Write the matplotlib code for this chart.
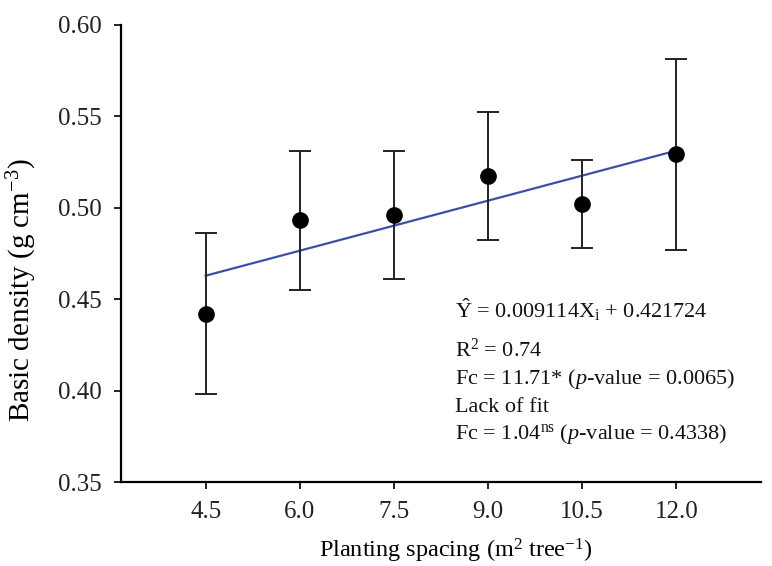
import numpy as np
import matplotlib.pyplot as plt

## Data
spacing = [4.5, 6.0, 7.5, 9.0, 10.5, 12.0]
density = [0.442, 0.493, 0.496, 0.517, 0.502, 0.529]
err_low = [0.398, 0.455, 0.461, 0.482, 0.478, 0.477]
err_high = [0.486, 0.531, 0.531, 0.552, 0.526, 0.581]
slope, intercept = 0.009114, 0.421724
stats_lines = [r'$\hat{\mathrm{Y}}$ = 0.009114X$_{\mathrm{i}}$ + 0.421724',
               r'R$^2$ = 0.74',
               r'Fc = 11.71* ($p$-value = 0.0065)',
               'Lack of fit',
               r'Fc = 1.04$^{\mathrm{ns}}$ ($p$-value = 0.4338)']
stats_baselines = [0.4397, 0.4184, 0.4036, 0.3883, 0.3735]

plt.rcParams['font.family'] = ['Liberation Serif', 'DejaVu Serif']
plt.rcParams['mathtext.fontset'] = 'custom'
plt.rcParams['mathtext.rm'] = 'Liberation Serif'
plt.rcParams['mathtext.it'] = 'Liberation Serif:italic'

fig = plt.figure(figsize=(7.72, 5.66), dpi=100)
ax = fig.add_axes([0.1567, 0.1484, 0.8291, 0.8083])

x = np.array(spacing)
y = np.array(density)
yerr = [y - np.array(err_low), np.array(err_high) - y]

# regression line
xl = np.array([spacing[0], spacing[-1]])
ax.plot(xl, slope * xl + intercept, color='#3b4fa8', lw=1.6, zorder=2)

ax.errorbar(x, y, yerr=yerr, fmt='o', color='black', ms=11,
            ecolor='#222222', elinewidth=1.4, capsize=8, capthick=1.4, zorder=3)

ax.set_xlim(3.15, 13.35)
ax.set_ylim(0.35, 0.60)
ax.set_xticks(spacing)
ax.set_xticklabels(['%.1f' % v for v in spacing])
ax.set_yticks([0.35, 0.40, 0.45, 0.50, 0.55, 0.60])
ax.set_yticklabels(['%.2f' % v for v in ax.get_yticks()])
ax.spines['top'].set_visible(False)
ax.spines['right'].set_visible(False)
ax.spines['left'].set_linewidth(1.6)
ax.spines['bottom'].set_linewidth(1.6)
ax.tick_params(labelsize=18, width=1.4, length=5, colors='#222222')
ax.tick_params(axis='x', pad=9)
ax.tick_params(axis='y', pad=9)

ax.set_xlabel(r'Planting spacing (m$^{2}$ tree$^{\mathregular{-1}}$)', fontsize=17.5)
ax.set_ylabel(r'Basic density (g cm$^{\mathregular{-3}}$)', fontsize=21)
ax.xaxis.set_label_coords(0.523, -0.12)
ax.yaxis.set_label_coords(-0.128, 0.42)

# statistics text
for line, yb in zip(stats_lines, stats_baselines):
    ax.text(8.47, yb, line, fontsize=16, va='baseline', ha='left',
            color='#111111')

plt.savefig('out.png', dpi=100)
